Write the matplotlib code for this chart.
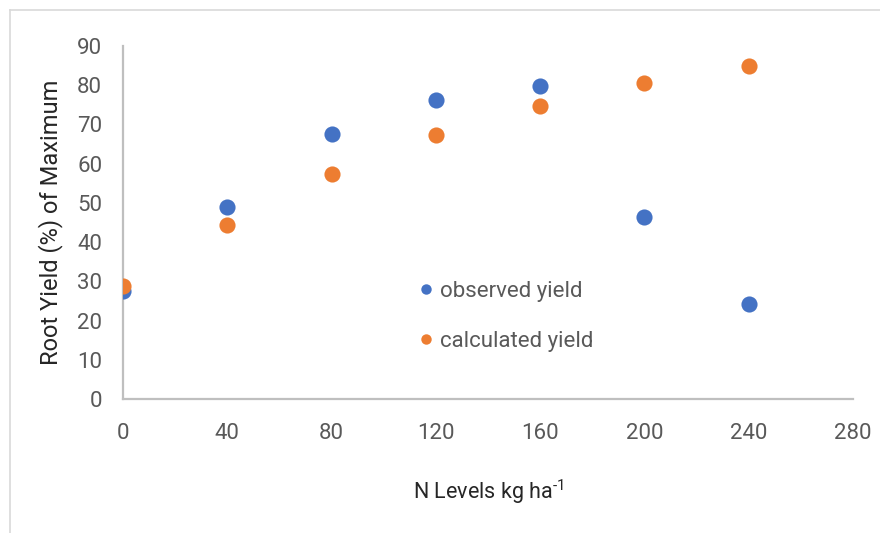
import matplotlib
matplotlib.use("Agg")
import matplotlib.pyplot as plt
from matplotlib.lines import Line2D

plt.rcParams['font.family'] = ['Roboto', 'DejaVu Sans']
plt.rcParams['mathtext.fontset'] = 'custom'
plt.rcParams['mathtext.rm'] = 'Roboto'

n_levels = [0, 40, 80, 120, 160, 200, 240]
observed_yield = [27.5, 49.0, 67.6, 76.2, 79.8, 46.5, 24.2]
calculated_yield = [28.8, 44.4, 57.4, 67.3, 74.7, 80.5, 85.0]
x_ticks = [0, 40, 80, 120, 160, 200, 240, 280]
y_ticks = [0, 10, 20, 30, 40, 50, 60, 70, 80, 90]

blue = '#4472C4'
orange = '#ED7D31'
tick_color = '#595959'
axis_color = '#BFBFBF'

fig = plt.figure(figsize=(8.8, 5.33), dpi=100)
ax = fig.add_axes([123 / 880, 1 - 399 / 533, (853 - 123) / 880, (399 - 46) / 533])

ax.scatter(n_levels, observed_yield, s=135, color=blue, zorder=3, linewidths=0)
ax.scatter(n_levels, calculated_yield, s=135, color=orange, zorder=4, linewidths=0)

ax.set_xlim(0, 280)
ax.set_ylim(0, 90)
ax.set_xticks(x_ticks)
ax.set_yticks(y_ticks)
ax.tick_params(axis='both', length=0, labelsize=16, colors=tick_color)
ax.tick_params(axis='x', pad=17)
ax.tick_params(axis='y', pad=15)

for side in ('top', 'right'):
    ax.spines[side].set_visible(False)
for side in ('left', 'bottom'):
    ax.spines[side].set_color(axis_color)
    ax.spines[side].set_linewidth(1.6)

ax.set_xlabel(r'N Levels kg ha$^{\text{-1}}$', fontsize=15.5, color='#262626', labelpad=24)
ax.set_ylabel('Root Yield (%) of Maximum', fontsize=17, color='#262626', labelpad=10)

handles = [
    Line2D([], [], marker='o', linestyle='none', color=blue, markersize=7.5, markeredgewidth=0),
    Line2D([], [], marker='o', linestyle='none', color=orange, markersize=7.5, markeredgewidth=0),
]
ax.legend(handles, ['observed yield', 'calculated yield'], loc='upper left',
          bbox_to_anchor=((404 - 123) / 730, (399 - 270) / 353),
          frameon=False, fontsize=16, labelcolor=tick_color,
          handletextpad=0.1, labelspacing=1.3, handlelength=1.0, borderpad=0)

# light frame lines along the top and left edges of the figure
fig.add_artist(Line2D([10 / 880, 1], [1 - 10 / 533, 1 - 10 / 533], transform=fig.transFigure,
                      color='#D9D9D9', linewidth=1.2))
fig.add_artist(Line2D([10 / 880, 10 / 880], [0, 1 - 10 / 533], transform=fig.transFigure,
                      color='#D9D9D9', linewidth=1.2))

fig.savefig('out.png', dpi=100)
